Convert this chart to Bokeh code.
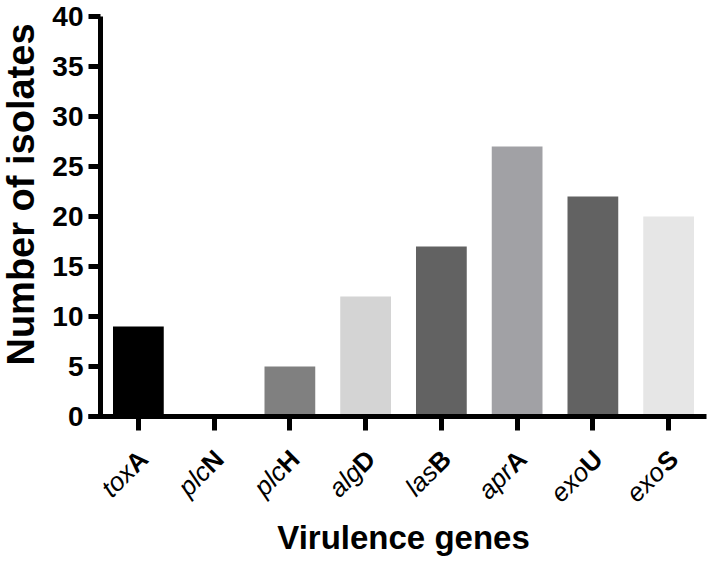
from bokeh.plotting import figure
from bokeh.models import ColumnDataSource, FixedTicker, Range1d, Label
from bokeh.embed import file_html
from bokeh.resources import INLINE

# data
gene_italic = ["tox", "plc", "plc", "alg", "las", "apr", "exo", "exo"]
gene_bold = ["A", "N", "H", "D", "B", "A", "U", "S"]
genes = [a + b for a, b in zip(gene_italic, gene_bold)]
counts = [9, 0, 5, 12, 17, 27, 22, 20]
colors = ["#000000", "#000000", "#808080", "#d4d4d4", "#626262", "#a1a1a5", "#626262", "#e6e6e6"]
y_ticks = [0, 5, 10, 15, 20, 25, 30, 35, 40]
y_max = 40
x_title = "Virulence genes"
y_title = "Number of isolates"

FONT = "Liberation Sans"
W, H = 708, 561
AX_LEFT, AX_RIGHT = 100, 706      # pixel extent of the x axis
AX_TOP, AX_BOTTOM = 16, 416       # pixel extent of the y axis

n = len(genes)
xpos = list(range(n))
unit = (AX_RIGHT - AX_LEFT) / n
ppu = (AX_BOTTOM - AX_TOP) / y_max

x_range = Range1d(-0.5 - AX_LEFT / unit, n - 0.5 + (W - AX_RIGHT) / unit)
y_range = Range1d(-(H - AX_BOTTOM) / ppu, y_max + AX_TOP / ppu)

src = ColumnDataSource(dict(x=xpos, gene=genes, count=counts, color=colors))

p = figure(x_range=x_range, y_range=y_range, width=W, height=H,
           output_backend="svg", toolbar_location=None,
           min_border=0, min_border_left=0, min_border_right=0,
           min_border_top=0, min_border_bottom=0)
p.outline_line_color = None
p.xgrid.visible = False
p.ygrid.visible = False

p.vbar(x="x", top="count", width=0.67, source=src, fill_color="color", line_color=None)

ya = p.yaxis[0]
ya.fixed_location = -0.5
ya.bounds = (0, y_max)
ya.ticker = FixedTicker(ticks=y_ticks)
ya.axis_line_width = 5
ya.axis_line_color = "black"
ya.major_tick_line_width = 5
ya.major_tick_in = 0
ya.major_tick_out = 12
ya.minor_tick_line_color = None
ya.major_label_text_font = FONT
ya.major_label_text_font_style = "bold"
ya.major_label_text_font_size = "28px"
ya.major_label_text_color = "black"
ya.major_label_standoff = 5

xa = p.xaxis[0]
xa.fixed_location = 0
xa.bounds = (-0.5 - 12 / unit, n - 0.5)
xa.ticker = FixedTicker(ticks=xpos)
xa.axis_line_width = 5
xa.axis_line_color = "black"
xa.major_tick_line_width = 5
xa.major_tick_in = 0
xa.major_tick_out = 14
xa.minor_tick_line_color = None
xa.major_label_text_font_size = "0px"
xa.major_label_text_alpha = 0

# rotated gene labels: italic prefix + bold upright letter (one Label per part)
fs = 26
ANG = 45
shift = 0.722 * fs * 0.7071
ox, oy = 5, -38
for xi, it, bd in zip(xpos, gene_italic, gene_bold):
    p.add_layout(Label(x=xi, y=0, x_offset=ox, y_offset=oy, text=bd,
                       angle=ANG, angle_units="deg", text_align="right",
                       text_baseline="alphabetic", text_font=FONT, text_font_style="bold",
                       text_font_size=f"{fs}px", text_color="black"))
    p.add_layout(Label(x=xi, y=0, x_offset=ox - shift, y_offset=oy - shift, text=it,
                       angle=ANG, angle_units="deg", text_align="right",
                       text_baseline="alphabetic", text_font=FONT, text_font_style="italic",
                       text_font_size=f"{fs}px", text_color="black"))

# axis titles
p.add_layout(Label(x=(n - 1) / 2, y=0, y_offset=-121, text=x_title, text_align="center",
                   text_baseline="alphabetic", text_font=FONT, text_font_style="bold",
                   text_font_size="33px", text_color="black"))
p.add_layout(Label(x=-0.5, x_offset=-(AX_LEFT - 33) - 13, y=y_max / 2, y_offset=22,
                   text=y_title, angle=90, angle_units="deg",
                   text_align="center", text_baseline="alphabetic", text_font=FONT,
                   text_font_style="bold", text_font_size="38px", text_color="black"))

open("out.html", "w").write(file_html(p, INLINE))
